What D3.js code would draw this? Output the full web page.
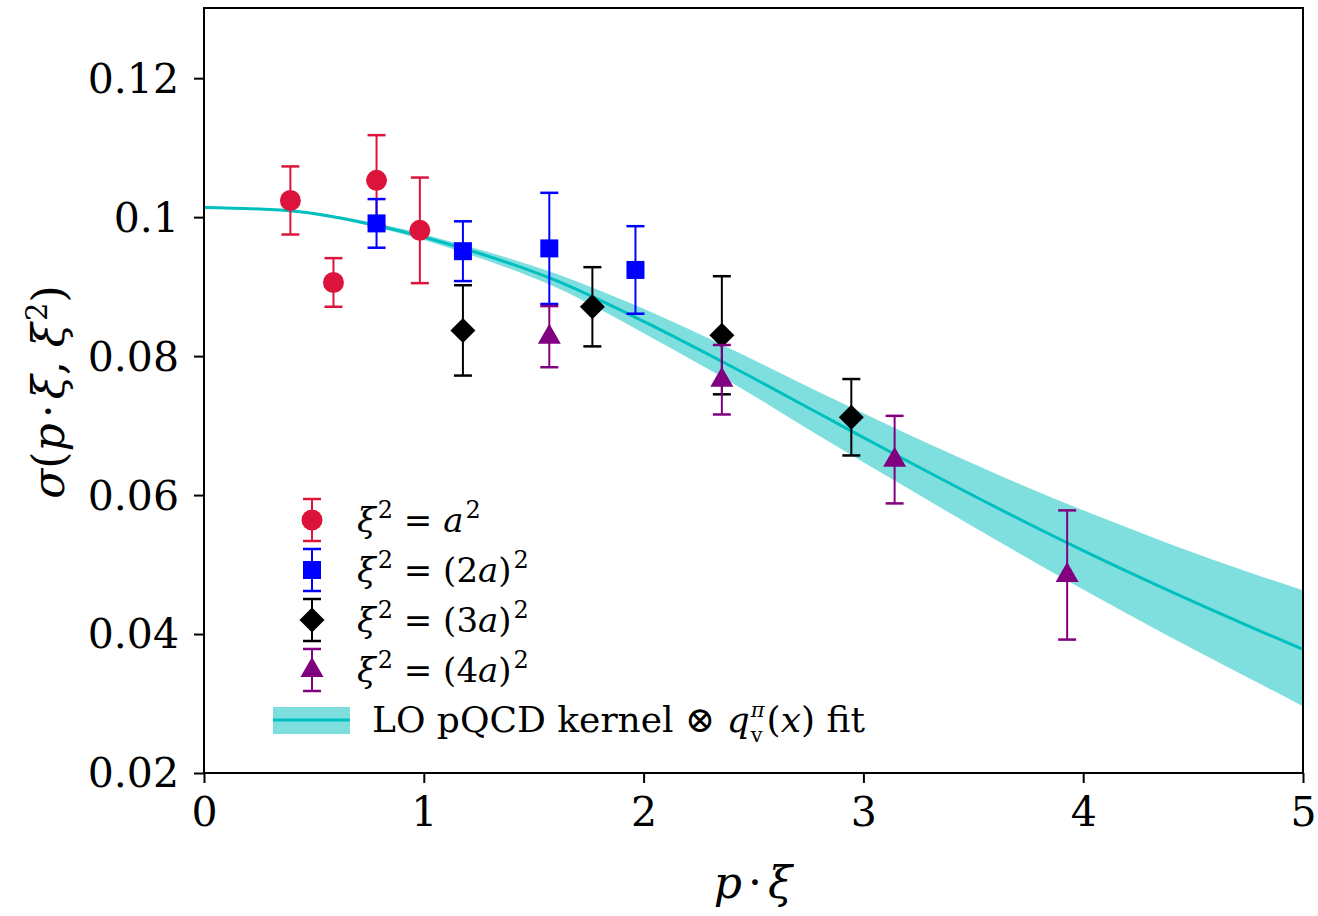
<!DOCTYPE html>
<html>
<head>
<meta charset="utf-8">
<script src="https://cdn.jsdelivr.net/npm/d3@7"></script>
<style>
  body { margin: 0; background: #fff; }
  svg { display: block; }
  text { font-family: "DejaVu Serif", serif; fill: #000; }
</style>
</head>
<body>
<div id="chart"></div>
<script>
// lattice momenta p*xi for each separation
const xA1 = [0.393, 0.589, 0.785, 0.982]
const yA1 = [0.1024, 0.0906, 0.1053, 0.0981]
const eA1 = [0.0049, 0.0035, 0.0065, 0.0076]

const xA2 = [0.785, 1.178, 1.571, 1.963]
const yA2 = [0.0991, 0.0951, 0.0955, 0.0924]
const eA2 = [0.0035, 0.0043, 0.0080, 0.0063]

const xA3 = [1.178, 1.767, 2.356, 2.945]
const yA3 = [0.0837, 0.0871, 0.0830, 0.0712]
const eA3 = [0.0065, 0.0057, 0.0085, 0.0055]

const xA4 = [1.571, 2.356, 3.142, 3.927]
const yA4 = [0.0828, 0.0766, 0.0651, 0.0485]
const eA4 = [0.0044, 0.0050, 0.0063, 0.0093]

// fit curve + band
const fitX = [0, 0.4, 0.8, 1.2, 1.6, 2.0, 2.4, 2.8, 3.2, 3.6, 4.0, 4.4, 4.8, 5.0]
const fitMid = [0.1014, 0.1009, 0.0987, 0.0953, 0.0909, 0.0850, 0.0785, 0.0717, 0.0649, 0.0583, 0.0520, 0.0461, 0.0405, 0.0378]
const fitHi = [0.1014, 0.1010, 0.0990, 0.0958, 0.0919, 0.0868, 0.0810, 0.0748, 0.0688, 0.0631, 0.0578, 0.0529, 0.0484, 0.0463]
const fitLo = [0.1014, 0.1008, 0.0984, 0.0947, 0.0899, 0.0833, 0.0762, 0.0685, 0.0610, 0.0536, 0.0464, 0.0395, 0.0329, 0.0296]

const xTicks = [0, 1, 2, 3, 4, 5]
const yTicks = [0.02, 0.04, 0.06, 0.08, 0.1, 0.12]
const yTickLabels = ["0.02", "0.04", "0.06", "0.08", "0.1", "0.12"]

const W = 1318, H = 916
const mLeft = 204, mRight = 1303, mTop = 8, mBottom = 773

const x = d3.scaleLinear().domain([0, 5]).range([mLeft, mRight])
const y = d3.scaleLinear().domain([0.02, 0.1301]).range([mBottom, mTop])

const svg = d3.select("#chart").append("svg")
    .attr("width", W)
    .attr("height", H)

const FIT = "#00bfbf"

// symbols
const circleSym = d3.symbol().type(d3.symbolCircle).size(Math.PI * 10.5 * 10.5)
const squareSym = d3.symbol().type(d3.symbolSquare).size(18 * 18)
const diamondSym = g => { g.moveTo(0, -12.5); g.lineTo(12.5, 0); g.lineTo(0, 12.5); g.lineTo(-12.5, 0); g.closePath() }
const triangleSym = g => { g.moveTo(0, -13); g.lineTo(11.5, 7); g.lineTo(-11.5, 7); g.closePath() }
function sym(kind) {
  if (kind == "circle") return circleSym()
  if (kind == "square") return squareSym()
  const p = d3.path()
  if (kind == "diamond") diamondSym(p); else triangleSym(p)
  return p.toString()
}

const series = [
  { xs: xA1, ys: yA1, es: eA1, color: "#dc143c", kind: "circle" },
  { xs: xA2, ys: yA2, es: eA2, color: "#0000ff", kind: "square" },
  { xs: xA3, ys: yA3, es: eA3, color: "#000000", kind: "diamond" },
  { xs: xA4, ys: yA4, es: eA4, color: "#800080", kind: "triangle" }
]

svg.append("clipPath").attr("id", "clip")
  .append("rect").attr("x", mLeft).attr("y", mTop).attr("width", mRight - mLeft).attr("height", mBottom - mTop)

const plot = svg.append("g").attr("clip-path", "url(#clip)")

// band
const fitData = fitX.map((v, i) => ({ x: v, m: fitMid[i], hi: fitHi[i], lo: fitLo[i] }))
plot.append("path")
    .datum(fitData)
    .attr("fill", FIT)
    .attr("fill-opacity", 0.5)
    .attr("d", d3.area().curve(d3.curveMonotoneX).x(d => x(d.x)).y0(d => y(d.lo)).y1(d => y(d.hi)))

plot.append("path")
    .datum(fitData)
    .attr("fill", "none")
    .attr("stroke", FIT)
    .attr("stroke-width", 3)
    .attr("d", d3.line().curve(d3.curveMonotoneX).x(d => x(d.x)).y(d => y(d.m)))

// data points with error bars
series.forEach(s => {
  const pts = s.xs.map((v, i) => ({ x: v, y: s.ys[i], e: s.es[i] }))
  const g = plot.append("g")
  g.selectAll("line.bar").data(pts).join("line")
      .attr("x1", d => x(d.x)).attr("x2", d => x(d.x))
      .attr("y1", d => y(d.y - d.e)).attr("y2", d => y(d.y + d.e))
      .attr("stroke", s.color).attr("stroke-width", 2)
  g.selectAll("line.capt").data(pts).join("line")
      .attr("x1", d => x(d.x) - 9).attr("x2", d => x(d.x) + 9)
      .attr("y1", d => y(d.y + d.e)).attr("y2", d => y(d.y + d.e))
      .attr("stroke", s.color).attr("stroke-width", 2.5)
  g.selectAll("line.capb").data(pts).join("line")
      .attr("x1", d => x(d.x) - 9).attr("x2", d => x(d.x) + 9)
      .attr("y1", d => y(d.y - d.e)).attr("y2", d => y(d.y - d.e))
      .attr("stroke", s.color).attr("stroke-width", 2.5)
  g.selectAll("path").data(pts).join("path")
      .attr("d", sym(s.kind))
      .attr("transform", d => `translate(${x(d.x)},${y(d.y)})`)
      .attr("fill", s.color)
})

// axes
const xAxis = svg.append("g")
    .attr("transform", `translate(0,${mBottom})`)
    .call(d3.axisBottom(x).tickValues(xTicks).tickSize(10).tickPadding(6).tickFormat(d3.format("d")))
const yAxis = svg.append("g")
    .attr("transform", `translate(${mLeft},0)`)
    .call(d3.axisLeft(y).tickValues(yTicks).tickSize(10).tickPadding(15).tickFormat((d, i) => yTickLabels[i]))

;[xAxis, yAxis].forEach(a => {
  a.select(".domain").remove()
  a.selectAll(".tick line").attr("stroke", "#000").attr("stroke-width", 2)
  a.selectAll(".tick text").style("font-family", "DejaVu Serif").style("font-size", "41px").attr("fill", "#000")
})
yAxis.selectAll(".tick text").attr("dy", "0.34em")
xAxis.selectAll(".tick text").attr("dy", "0.9em")

svg.append("rect")
    .attr("x", mLeft).attr("y", mTop)
    .attr("width", mRight - mLeft).attr("height", mBottom - mTop)
    .attr("fill", "none").attr("stroke", "#000").attr("stroke-width", 2)

// simple math text builder
function mathText(t, parts) {
  parts.forEach(p => {
    const ts = t.append("tspan").text(p.t)
    if (p.it) ts.style("font-style", "italic")
    if (p.size) ts.style("font-size", p.size + "px")
    if (p.dy) ts.attr("dy", p.dy)
    if (p.dx) ts.attr("dx", p.dx)
  })
  return t
}

// axis labels
mathText(svg.append("text")
    .attr("x", 753).attr("y", 898)
    .attr("text-anchor", "middle")
    .style("font-size", "44px"),
  [{ t: "p", it: true }, { t: "·", dx: 6 }, { t: "ξ", it: true, dx: 6 }])

mathText(svg.append("text")
    .attr("transform", "translate(64,392) rotate(-90)")
    .attr("text-anchor", "middle")
    .style("font-size", "44px"),
  [{ t: "σ", it: true }, { t: "(" }, { t: "p", it: true }, { t: "·", dx: 5 }, { t: "ξ", it: true, dx: 5 }, { t: ", " },
   { t: "ξ", it: true }, { t: "2", size: 29, dy: -17, dx: 2 }, { t: ")", dy: 17 }])

// legend
const legendLabels = [
  [{ t: "ξ", it: true }, { t: "2", size: 24, dy: -14, dx: 2 }, { t: " = ", dy: 14 }, { t: "a", it: true }, { t: "2", size: 24, dy: -14, dx: 2 }],
  [{ t: "ξ", it: true }, { t: "2", size: 24, dy: -14, dx: 2 }, { t: " = (2", dy: 14 }, { t: "a", it: true }, { t: ")" }, { t: "2", size: 24, dy: -14, dx: 2 }],
  [{ t: "ξ", it: true }, { t: "2", size: 24, dy: -14, dx: 2 }, { t: " = (3", dy: 14 }, { t: "a", it: true }, { t: ")" }, { t: "2", size: 24, dy: -14, dx: 2 }],
  [{ t: "ξ", it: true }, { t: "2", size: 24, dy: -14, dx: 2 }, { t: " = (4", dy: 14 }, { t: "a", it: true }, { t: ")" }, { t: "2", size: 24, dy: -14, dx: 2 }]
]
const legendY = [520, 570, 620, 670]
const lg = svg.append("g")
series.forEach((s, i) => {
  const cy = legendY[i]
  lg.append("line").attr("x1", 312).attr("x2", 312).attr("y1", cy - 21).attr("y2", cy + 21)
      .attr("stroke", s.color).attr("stroke-width", 2)
  ;[-21, 21].forEach(o => lg.append("line").attr("x1", 303).attr("x2", 321).attr("y1", cy + o).attr("y2", cy + o)
      .attr("stroke", s.color).attr("stroke-width", 2.5))
  lg.append("path").attr("d", sym(s.kind)).attr("transform", `translate(312,${cy})`).attr("fill", s.color)
  mathText(lg.append("text").attr("x", 357).attr("y", cy + 12).style("font-size", "34px"), legendLabels[i])
})
lg.append("rect").attr("x", 273).attr("y", 707).attr("width", 77).attr("height", 27)
    .attr("fill", FIT).attr("fill-opacity", 0.5)
lg.append("line").attr("x1", 273).attr("x2", 350).attr("y1", 720).attr("y2", 720)
    .attr("stroke", FIT).attr("stroke-width", 3)
const fitText = lg.append("text").attr("x", 372).attr("y", 732).style("font-size", "36px")
fitText.append("tspan").text("LO pQCD kernel ⊗ ")
fitText.append("tspan").text("q").style("font-style", "italic")
const piT = fitText.append("tspan").text("π").style("font-size", "21px").style("font-style", "italic").attr("dy", -15).attr("dx", 1)
const piW = piT.node().getComputedTextLength()
fitText.append("tspan").text("v").style("font-size", "21px").attr("dx", -piW).attr("dy", 25)
fitText.append("tspan").text("(").attr("dy", -10).attr("dx", 4)
fitText.append("tspan").text("x").style("font-style", "italic")
fitText.append("tspan").text(") fit")
</script>
</body>
</html>
